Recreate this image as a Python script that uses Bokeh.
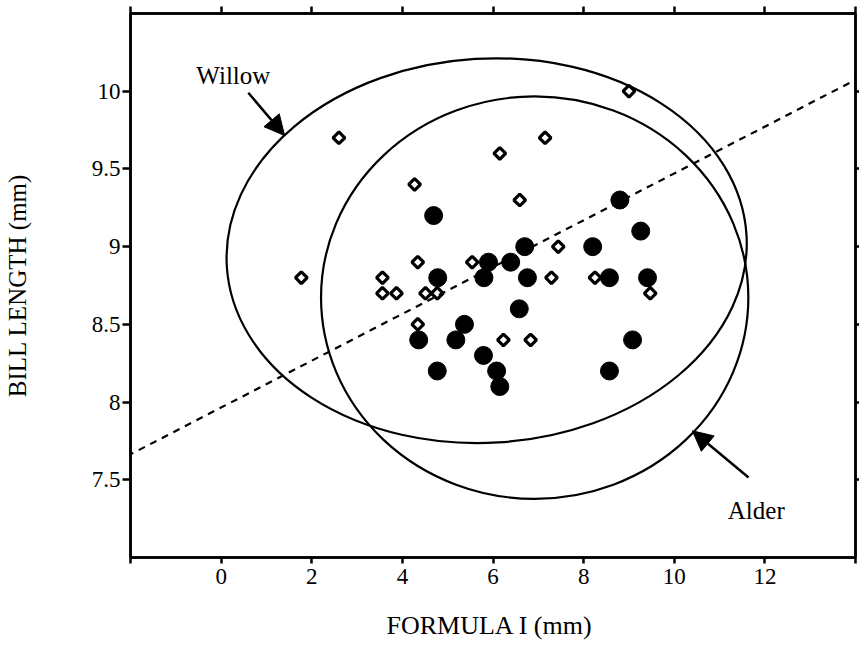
import math
from bokeh.plotting import figure
from bokeh.models import (LinearAxis, FixedTicker, Slope, Arrow, NormalHead,
                          Label, Range1d)
from bokeh.embed import file_html
from bokeh.resources import INLINE

# ---------------- data ----------------
# Willow (open diamonds)
willow_x = [9.0, 2.6, 7.15, 6.15, 4.27, 6.59, 4.34, 5.54, 7.44, 1.77, 3.56,
            7.29, 8.25, 3.56, 3.87, 4.51, 4.77, 9.47, 4.34, 6.23, 6.83]
willow_y = [10.0, 9.7, 9.7, 9.6, 9.4, 9.3, 8.9, 8.9, 9.0, 8.8, 8.8,
            8.8, 8.8, 8.7, 8.7, 8.7, 8.7, 8.7, 8.5, 8.4, 8.4]

# Alder (filled circles)
alder_x = [4.69, 6.70, 5.90, 6.39, 4.78, 5.80, 6.76, 6.58, 5.37, 4.36, 5.18,
           5.79, 4.77, 6.08, 6.15, 8.80, 9.26, 8.20, 8.57, 9.41, 9.08, 8.57]
alder_y = [9.2, 9.0, 8.9, 8.9, 8.8, 8.8, 8.8, 8.6, 8.5, 8.4, 8.4,
           8.3, 8.2, 8.2, 8.1, 9.3, 9.1, 9.0, 8.8, 8.8, 8.4, 8.2]

# Ellipses: centre x, centre y, width, height, angle
ellipse_names = ["Willow", "Alder"]
ellipse_cx = [5.86, 6.92]
ellipse_cy = [8.974, 8.672]
ellipse_w = [11.49, 9.43]
ellipse_h = [2.473, 2.589]
ellipse_angle = [0.06, 0.0]

# Regression line (dashed)
reg_intercept = 7.965
reg_slope = 0.1506

# Axes
x_ticks = [-2, 0, 2, 4, 6, 8, 10, 12, 14]
x_tick_labels = ["", "0", "2", "4", "6", "8", "10", "12", ""]
y_ticks = [7.5, 8, 8.5, 9, 9.5, 10]
y_tick_labels = ["7.5", "8", "8.5", "9", "9.5", "10"]

FONT = "Liberation Serif"

p = figure(width=859, height=653, x_range=Range1d(-2, 14), y_range=Range1d(7, 10.5),
           output_backend="svg", toolbar_location=None,
           x_axis_location=None, y_axis_location=None,
           min_border_left=126, min_border_right=4, min_border_top=13,
           min_border_bottom=96)
p.grid.visible = False
p.outline_line_color = "black"
p.outline_line_width = 2.5
p.background_fill_color = "white"
p.border_fill_color = "white"


def style_axis(ax, labelled, tick_out=7):
    ax.axis_line_color = "black"
    ax.axis_line_width = 2.5
    ax.major_tick_line_color = "black"
    ax.major_tick_line_width = 2.5
    ax.major_tick_out = tick_out
    ax.major_tick_in = 0
    ax.minor_tick_out = 0
    ax.minor_tick_in = 0
    if labelled:
        ax.major_label_text_font = FONT
        ax.major_label_text_font_size = "23px"
        ax.major_label_text_color = "black"
        ax.axis_label_text_font = FONT
        ax.axis_label_text_font_size = "25px"
        ax.axis_label_text_font_style = "normal"
        ax.axis_label_text_color = "black"
    else:
        ax.major_label_text_font_size = "0px"
        ax.major_label_text_color = None
        ax.major_label_standoff = 0


xb = LinearAxis(ticker=FixedTicker(ticks=x_ticks),
                major_label_overrides=dict(zip(x_ticks, x_tick_labels)),
                axis_label="FORMULA  I (mm)")
style_axis(xb, True, 6)
xb.major_label_standoff = 5
xb.axis_label_standoff = 24
xb.axis_label_text_font_size = "26px"
p.add_layout(xb, "below")

yl = LinearAxis(ticker=FixedTicker(ticks=y_ticks),
                major_label_overrides=dict(zip(y_ticks, y_tick_labels)),
                axis_label="BILL LENGTH (mm)")
style_axis(yl, True, 8)
yl.major_label_standoff = 2
yl.axis_label_standoff = 58
p.add_layout(yl, "left")

xt = LinearAxis(ticker=FixedTicker(ticks=x_ticks))
style_axis(xt, False, 7)
p.add_layout(xt, "above")

yr = LinearAxis(ticker=FixedTicker(ticks=y_ticks))
style_axis(yr, False, 4)
p.add_layout(yr, "right")

# ellipses
p.ellipse(x=ellipse_cx, y=ellipse_cy, width=ellipse_w, height=ellipse_h,
          angle=ellipse_angle, fill_color=None, line_color="black", line_width=2.2)

# regression line
p.add_layout(Slope(gradient=reg_slope, y_intercept=reg_intercept,
                   line_color="black", line_width=2.2, line_dash="7 6"))

# points
p.scatter(alder_x, alder_y, marker="circle", size=18,
          fill_color="black", line_color="black", line_width=1)
p.scatter(willow_x, willow_y, marker="square", angle=math.pi / 4, size=8.3,
          fill_color="white", line_color="black", line_width=3.2)

# arrows & labels
p.add_layout(Arrow(end=NormalHead(size=20, fill_color="black", line_color="black", line_width=1),
                   x_start=0.60, y_start=9.99, x_end=1.40, y_end=9.715,
                   line_color="black", line_width=2.5))
p.add_layout(Arrow(end=NormalHead(size=20, fill_color="black", line_color="black", line_width=1),
                   x_start=11.64, y_start=7.515, x_end=10.40, y_end=7.815,
                   line_color="black", line_width=2.5))

p.add_layout(Label(x=0.27, y=10.10, text=ellipse_names[0], text_align="center",
                   text_baseline="alphabetic", text_font=FONT, text_font_size="25px",
                   text_color="black"))
p.add_layout(Label(x=11.81, y=7.30, text=ellipse_names[1], text_align="center",
                   text_baseline="alphabetic", text_font=FONT, text_font_size="25px",
                   text_color="black"))

open("out.html", "w").write(file_html(p, INLINE))
